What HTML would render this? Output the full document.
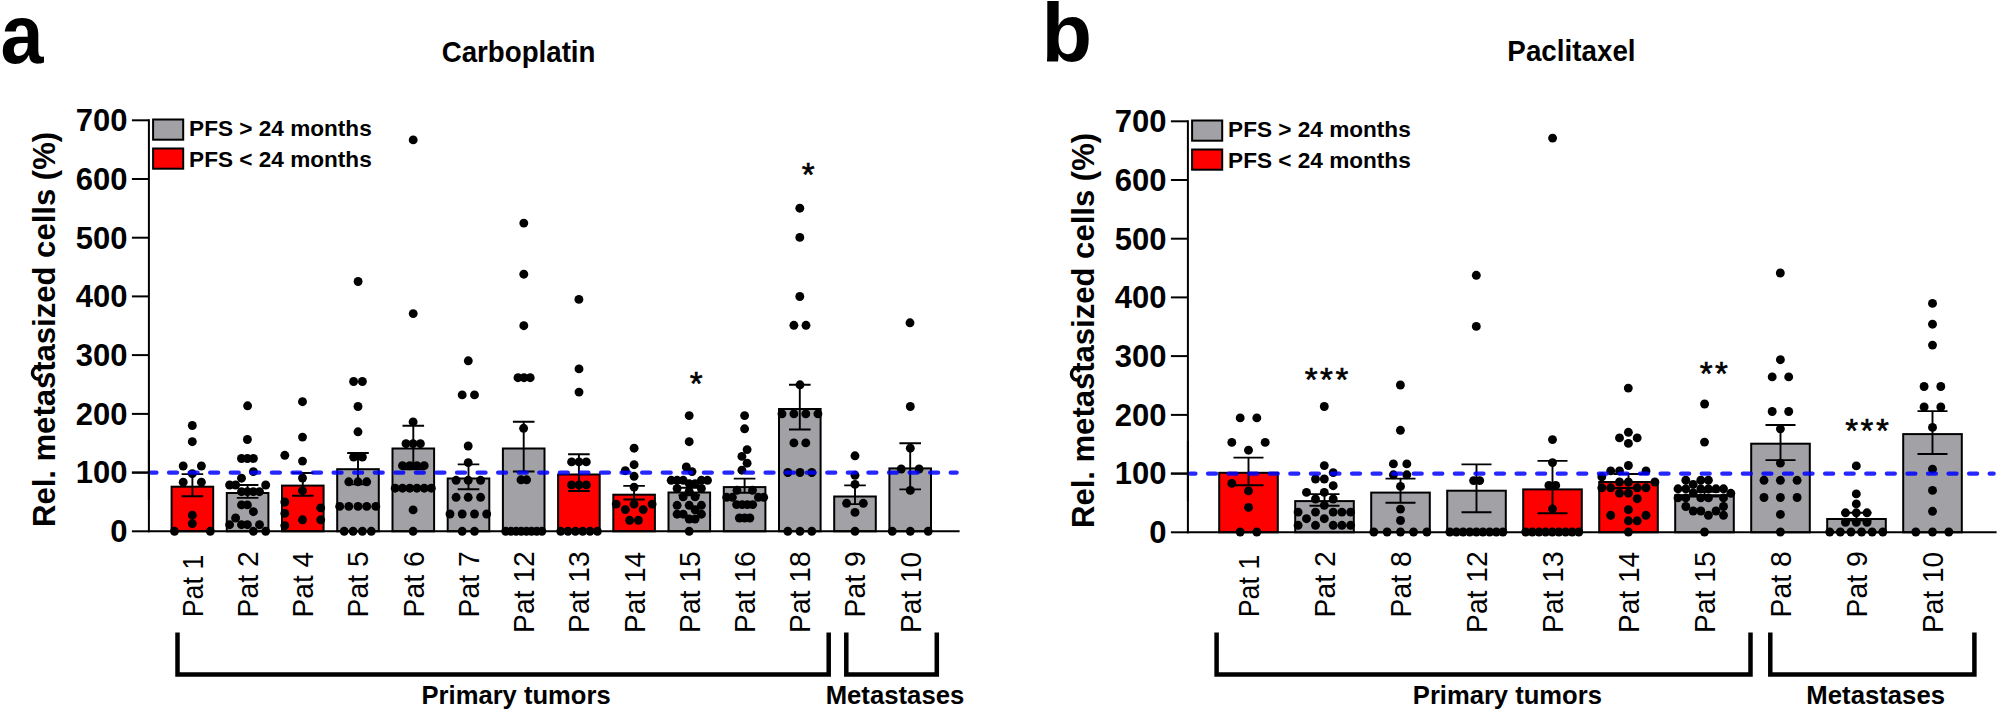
<!DOCTYPE html>
<html><head><meta charset="utf-8"><title>Figure</title>
<style>html,body{margin:0;padding:0;background:#fff}svg{display:block}text{font-family:"Liberation Sans",sans-serif;fill:#000}</style>
</head><body>
<svg width="2000" height="712" viewBox="0 0 2000 712">
<rect width="2000" height="712" fill="#fff"/>
<g transform="translate(0,0)">
<text transform="translate(0.49,63.00) scale(0.9208,1)" font-size="84" font-weight="bold">a</text>
<text transform="translate(441.63,62.00) scale(0.9686,1)" font-size="28.6" font-weight="bold">Carboplatin</text>
<g transform="translate(0,0)">
<text transform="translate(55.10,527.04) rotate(-90) scale(1.0018,1)" font-size="31" font-weight="bold">Rel. metastasized cells (%)</text>
<path d="M39.6 379C33.6 379.4 31.4 374.2 33 370.4C34.2 367.6 37 367 38.6 368.2" stroke="#000" stroke-width="3.3" stroke-linecap="round" fill="none"/>
<text transform="translate(110.21,542.20) scale(0.9720,1)" font-size="31.9" font-weight="bold">0</text>
<line x1="131.9" x2="148.9" y1="531.3" y2="531.3" stroke="#000" stroke-width="2"/>
<text transform="translate(75.72,483.48) scale(0.9720,1)" font-size="31.9" font-weight="bold">100</text>
<line x1="131.9" x2="148.9" y1="472.6" y2="472.6" stroke="#000" stroke-width="2"/>
<text transform="translate(75.72,424.76) scale(0.9720,1)" font-size="31.9" font-weight="bold">200</text>
<line x1="131.9" x2="148.9" y1="413.9" y2="413.9" stroke="#000" stroke-width="2"/>
<text transform="translate(75.72,366.04) scale(0.9720,1)" font-size="31.9" font-weight="bold">300</text>
<line x1="131.9" x2="148.9" y1="355.1" y2="355.1" stroke="#000" stroke-width="2"/>
<text transform="translate(75.72,307.32) scale(0.9720,1)" font-size="31.9" font-weight="bold">400</text>
<line x1="131.9" x2="148.9" y1="296.4" y2="296.4" stroke="#000" stroke-width="2"/>
<text transform="translate(75.72,248.60) scale(0.9720,1)" font-size="31.9" font-weight="bold">500</text>
<line x1="131.9" x2="148.9" y1="237.7" y2="237.7" stroke="#000" stroke-width="2"/>
<text transform="translate(75.72,189.88) scale(0.9720,1)" font-size="31.9" font-weight="bold">600</text>
<line x1="131.9" x2="148.9" y1="179.0" y2="179.0" stroke="#000" stroke-width="2"/>
<text transform="translate(75.72,131.16) scale(0.9720,1)" font-size="31.9" font-weight="bold">700</text>
<line x1="131.9" x2="148.9" y1="120.3" y2="120.3" stroke="#000" stroke-width="2"/>
<rect x="153.1" y="119.5" width="30.1" height="20.2" fill="#a2a1a6" stroke="#000" stroke-width="2"/>
<rect x="153.1" y="148.5" width="30.1" height="20.2" fill="#ff0000" stroke="#000" stroke-width="2"/>
<text transform="translate(189.06,136.40) scale(1.0271,1)" font-size="22" font-weight="bold">PFS &gt; 24 months</text>
<text transform="translate(189.06,167.40) scale(1.0271,1)" font-size="22" font-weight="bold">PFS &lt; 24 months</text>
<rect x="171.6" y="486.7" width="41.6" height="44.6" fill="#ff0000" stroke="#000" stroke-width="2"/>
<rect x="226.8" y="493.0" width="41.6" height="38.3" fill="#a2a1a6" stroke="#000" stroke-width="2"/>
<rect x="282.0" y="485.6" width="41.6" height="45.7" fill="#ff0000" stroke="#000" stroke-width="2"/>
<rect x="337.2" y="469.2" width="41.6" height="62.1" fill="#a2a1a6" stroke="#000" stroke-width="2"/>
<rect x="392.5" y="448.5" width="41.6" height="82.8" fill="#a2a1a6" stroke="#000" stroke-width="2"/>
<rect x="447.7" y="478.5" width="41.6" height="52.8" fill="#a2a1a6" stroke="#000" stroke-width="2"/>
<rect x="502.9" y="448.5" width="41.6" height="82.8" fill="#a2a1a6" stroke="#000" stroke-width="2"/>
<rect x="558.1" y="474.5" width="41.6" height="56.8" fill="#ff0000" stroke="#000" stroke-width="2"/>
<rect x="613.3" y="494.7" width="41.6" height="36.6" fill="#ff0000" stroke="#000" stroke-width="2"/>
<rect x="668.5" y="492.5" width="41.6" height="38.8" fill="#a2a1a6" stroke="#000" stroke-width="2"/>
<rect x="723.8" y="487.1" width="41.6" height="44.2" fill="#a2a1a6" stroke="#000" stroke-width="2"/>
<rect x="779.0" y="409.0" width="41.6" height="122.3" fill="#a2a1a6" stroke="#000" stroke-width="2"/>
<rect x="834.2" y="496.5" width="41.6" height="34.8" fill="#a2a1a6" stroke="#000" stroke-width="2"/>
<rect x="889.4" y="468.4" width="41.6" height="62.9" fill="#a2a1a6" stroke="#000" stroke-width="2"/>
<line x1="148.9" x2="148.9" y1="119.2" y2="532.3" stroke="#000" stroke-width="2"/>
<line x1="147.9" x2="959.6" y1="531.3" y2="531.3" stroke="#000" stroke-width="2"/>
<path d="M181.6 474.1H203.2M181.6 496.2H203.2M192.4 474.1V496.2" stroke="#000" stroke-width="1.9" fill="none"/>
<path d="M236.8 485.0H258.4M236.8 497.9H258.4M247.6 485.0V497.9" stroke="#000" stroke-width="1.9" fill="none"/>
<path d="M292.0 473.0H313.6M292.0 495.7H313.6M302.8 473.0V495.7" stroke="#000" stroke-width="1.9" fill="none"/>
<path d="M347.2 453.0H368.8M347.2 484.4H368.8M358.0 453.0V484.4" stroke="#000" stroke-width="1.9" fill="none"/>
<path d="M402.5 425.7H424.1M402.5 469.3H424.1M413.3 425.7V469.3" stroke="#000" stroke-width="1.9" fill="none"/>
<path d="M457.7 464.4H479.3M457.7 489.2H479.3M468.5 464.4V489.2" stroke="#000" stroke-width="1.9" fill="none"/>
<path d="M512.9 421.7H534.5M512.9 471.5H534.5M523.7 421.7V471.5" stroke="#000" stroke-width="1.9" fill="none"/>
<path d="M568.1 454.3H589.7M568.1 491.0H589.7M578.9 454.3V491.0" stroke="#000" stroke-width="1.9" fill="none"/>
<path d="M623.3 485.9H644.9M623.3 499.5H644.9M634.1 485.9V499.5" stroke="#000" stroke-width="1.9" fill="none"/>
<path d="M678.5 487.8H700.1M678.5 495.2H700.1M689.3 487.8V495.2" stroke="#000" stroke-width="1.9" fill="none"/>
<path d="M733.8 478.6H755.4M733.8 492.7H755.4M744.6 478.6V492.7" stroke="#000" stroke-width="1.9" fill="none"/>
<path d="M789.0 384.8H810.6M789.0 429.5H810.6M799.8 384.8V429.5" stroke="#000" stroke-width="1.9" fill="none"/>
<path d="M844.2 485.4H865.8M844.2 504.1H865.8M855.0 485.4V504.1" stroke="#000" stroke-width="1.9" fill="none"/>
<path d="M899.4 443.2H921.0M899.4 489.4H921.0M910.2 443.2V489.4" stroke="#000" stroke-width="1.9" fill="none"/>
<g fill="#000"><circle cx="192.3" cy="425.5" r="4.45"/><circle cx="192.3" cy="441.7" r="4.45"/><circle cx="183.2" cy="466.0" r="4.45"/><circle cx="201.4" cy="466.0" r="4.45"/><circle cx="192.3" cy="473.7" r="4.45"/><circle cx="183.2" cy="482.2" r="4.45"/><circle cx="201.4" cy="482.2" r="4.45"/><circle cx="192.3" cy="515.2" r="4.45"/><circle cx="192.3" cy="523.6" r="4.45"/><circle cx="174.5" cy="531.3" r="4.45"/><circle cx="210.3" cy="531.3" r="4.45"/><circle cx="247.6" cy="405.8" r="4.45"/><circle cx="247.4" cy="439.5" r="4.45"/><circle cx="241.5" cy="458.5" r="4.45"/><circle cx="247.4" cy="458.5" r="4.45"/><circle cx="253.4" cy="458.5" r="4.45"/><circle cx="253.4" cy="471.6" r="4.45"/><circle cx="241.5" cy="478.2" r="4.45"/><circle cx="229.6" cy="485.0" r="4.45"/><circle cx="235.6" cy="485.0" r="4.45"/><circle cx="265.7" cy="485.0" r="4.45"/><circle cx="241.5" cy="491.7" r="4.45"/><circle cx="247.4" cy="491.7" r="4.45"/><circle cx="253.4" cy="491.7" r="4.45"/><circle cx="259.5" cy="491.7" r="4.45"/><circle cx="241.5" cy="504.9" r="4.45"/><circle cx="247.4" cy="504.9" r="4.45"/><circle cx="253.4" cy="511.7" r="4.45"/><circle cx="235.6" cy="518.0" r="4.45"/><circle cx="229.6" cy="524.7" r="4.45"/><circle cx="241.5" cy="524.7" r="4.45"/><circle cx="247.4" cy="524.7" r="4.45"/><circle cx="259.5" cy="524.7" r="4.45"/><circle cx="253.4" cy="531.3" r="4.45"/><circle cx="265.7" cy="531.3" r="4.45"/><circle cx="302.5" cy="401.7" r="4.45"/><circle cx="302.5" cy="437.1" r="4.45"/><circle cx="284.8" cy="455.3" r="4.45"/><circle cx="302.5" cy="461.1" r="4.45"/><circle cx="302.5" cy="478.0" r="4.45"/><circle cx="302.5" cy="490.7" r="4.45"/><circle cx="284.8" cy="502.0" r="4.45"/><circle cx="320.7" cy="507.9" r="4.45"/><circle cx="284.8" cy="513.4" r="4.45"/><circle cx="302.5" cy="519.8" r="4.45"/><circle cx="320.7" cy="519.8" r="4.45"/><circle cx="284.8" cy="525.6" r="4.45"/><circle cx="358.1" cy="281.5" r="4.45"/><circle cx="353.6" cy="381.5" r="4.45"/><circle cx="362.4" cy="381.5" r="4.45"/><circle cx="358.0" cy="406.5" r="4.45"/><circle cx="358.0" cy="431.8" r="4.45"/><circle cx="353.6" cy="457.0" r="4.45"/><circle cx="362.4" cy="457.0" r="4.45"/><circle cx="348.8" cy="481.8" r="4.45"/><circle cx="358.0" cy="481.8" r="4.45"/><circle cx="366.7" cy="481.8" r="4.45"/><circle cx="339.7" cy="506.4" r="4.45"/><circle cx="348.8" cy="506.4" r="4.45"/><circle cx="358.0" cy="506.4" r="4.45"/><circle cx="366.7" cy="506.4" r="4.45"/><circle cx="375.8" cy="506.4" r="4.45"/><circle cx="344.2" cy="531.3" r="4.45"/><circle cx="353.1" cy="531.3" r="4.45"/><circle cx="362.4" cy="531.3" r="4.45"/><circle cx="371.3" cy="531.3" r="4.45"/><circle cx="413.2" cy="139.9" r="4.45"/><circle cx="413.2" cy="313.6" r="4.45"/><circle cx="413.1" cy="421.9" r="4.45"/><circle cx="406.0" cy="443.7" r="4.45"/><circle cx="413.1" cy="443.7" r="4.45"/><circle cx="420.4" cy="443.7" r="4.45"/><circle cx="402.5" cy="465.7" r="4.45"/><circle cx="409.8" cy="465.7" r="4.45"/><circle cx="416.9" cy="465.7" r="4.45"/><circle cx="424.2" cy="465.7" r="4.45"/><circle cx="395.2" cy="488.2" r="4.45"/><circle cx="402.5" cy="488.2" r="4.45"/><circle cx="409.8" cy="488.2" r="4.45"/><circle cx="416.9" cy="488.2" r="4.45"/><circle cx="424.2" cy="488.2" r="4.45"/><circle cx="431.3" cy="488.2" r="4.45"/><circle cx="413.1" cy="509.9" r="4.45"/><circle cx="413.1" cy="531.3" r="4.45"/><circle cx="468.3" cy="360.8" r="4.45"/><circle cx="462.2" cy="394.9" r="4.45"/><circle cx="474.5" cy="394.9" r="4.45"/><circle cx="468.2" cy="446.0" r="4.45"/><circle cx="468.2" cy="462.6" r="4.45"/><circle cx="456.1" cy="480.3" r="4.45"/><circle cx="468.2" cy="480.3" r="4.45"/><circle cx="480.6" cy="480.3" r="4.45"/><circle cx="456.1" cy="497.3" r="4.45"/><circle cx="468.2" cy="497.3" r="4.45"/><circle cx="480.6" cy="497.3" r="4.45"/><circle cx="450.0" cy="514.0" r="4.45"/><circle cx="462.2" cy="514.0" r="4.45"/><circle cx="474.5" cy="514.0" r="4.45"/><circle cx="486.7" cy="514.0" r="4.45"/><circle cx="462.2" cy="531.3" r="4.45"/><circle cx="474.5" cy="531.3" r="4.45"/><circle cx="523.8" cy="223.1" r="4.45"/><circle cx="523.8" cy="274.2" r="4.45"/><circle cx="523.8" cy="325.7" r="4.45"/><circle cx="518.0" cy="377.7" r="4.45"/><circle cx="524.0" cy="377.7" r="4.45"/><circle cx="530.2" cy="377.7" r="4.45"/><circle cx="523.6" cy="428.3" r="4.45"/><circle cx="521.0" cy="479.8" r="4.45"/><circle cx="526.6" cy="479.8" r="4.45"/><circle cx="505.7" cy="531.3" r="4.45"/><circle cx="510.9" cy="531.3" r="4.45"/><circle cx="516.1" cy="531.3" r="4.45"/><circle cx="521.2" cy="531.3" r="4.45"/><circle cx="526.4" cy="531.3" r="4.45"/><circle cx="531.5" cy="531.3" r="4.45"/><circle cx="536.7" cy="531.3" r="4.45"/><circle cx="541.9" cy="531.3" r="4.45"/><circle cx="578.9" cy="299.4" r="4.45"/><circle cx="579.0" cy="368.9" r="4.45"/><circle cx="579.0" cy="392.1" r="4.45"/><circle cx="571.6" cy="461.9" r="4.45"/><circle cx="579.0" cy="461.9" r="4.45"/><circle cx="586.3" cy="461.9" r="4.45"/><circle cx="571.6" cy="484.9" r="4.45"/><circle cx="579.0" cy="484.9" r="4.45"/><circle cx="586.3" cy="484.9" r="4.45"/><circle cx="560.7" cy="531.3" r="4.45"/><circle cx="568.0" cy="531.3" r="4.45"/><circle cx="575.4" cy="531.3" r="4.45"/><circle cx="582.7" cy="531.3" r="4.45"/><circle cx="590.0" cy="531.3" r="4.45"/><circle cx="597.4" cy="531.3" r="4.45"/><circle cx="634.1" cy="448.2" r="4.45"/><circle cx="634.1" cy="464.7" r="4.45"/><circle cx="625.3" cy="470.7" r="4.45"/><circle cx="634.1" cy="476.3" r="4.45"/><circle cx="634.1" cy="487.1" r="4.45"/><circle cx="616.2" cy="504.1" r="4.45"/><circle cx="634.1" cy="504.1" r="4.45"/><circle cx="652.1" cy="504.1" r="4.45"/><circle cx="625.3" cy="509.6" r="4.45"/><circle cx="643.2" cy="509.6" r="4.45"/><circle cx="629.6" cy="520.3" r="4.45"/><circle cx="638.4" cy="520.3" r="4.45"/><circle cx="689.2" cy="415.6" r="4.45"/><circle cx="689.2" cy="441.7" r="4.45"/><circle cx="686.3" cy="467.0" r="4.45"/><circle cx="692.0" cy="471.6" r="4.45"/><circle cx="671.2" cy="480.3" r="4.45"/><circle cx="677.1" cy="480.3" r="4.45"/><circle cx="683.2" cy="480.3" r="4.45"/><circle cx="701.4" cy="480.3" r="4.45"/><circle cx="707.5" cy="480.3" r="4.45"/><circle cx="689.2" cy="483.6" r="4.45"/><circle cx="695.1" cy="483.6" r="4.45"/><circle cx="677.1" cy="488.5" r="4.45"/><circle cx="701.4" cy="488.5" r="4.45"/><circle cx="689.2" cy="491.3" r="4.45"/><circle cx="683.2" cy="496.9" r="4.45"/><circle cx="695.1" cy="496.9" r="4.45"/><circle cx="677.1" cy="505.3" r="4.45"/><circle cx="689.2" cy="505.3" r="4.45"/><circle cx="701.4" cy="505.3" r="4.45"/><circle cx="695.1" cy="509.8" r="4.45"/><circle cx="677.1" cy="514.2" r="4.45"/><circle cx="683.2" cy="514.2" r="4.45"/><circle cx="701.4" cy="514.2" r="4.45"/><circle cx="689.2" cy="519.0" r="4.45"/><circle cx="695.1" cy="519.0" r="4.45"/><circle cx="689.2" cy="531.3" r="4.45"/><circle cx="744.6" cy="415.6" r="4.45"/><circle cx="744.6" cy="428.8" r="4.45"/><circle cx="747.1" cy="449.6" r="4.45"/><circle cx="741.9" cy="456.4" r="4.45"/><circle cx="747.1" cy="463.2" r="4.45"/><circle cx="741.9" cy="470.2" r="4.45"/><circle cx="737.0" cy="490.3" r="4.45"/><circle cx="752.5" cy="490.3" r="4.45"/><circle cx="726.7" cy="497.3" r="4.45"/><circle cx="732.4" cy="497.3" r="4.45"/><circle cx="758.4" cy="497.3" r="4.45"/><circle cx="763.7" cy="497.3" r="4.45"/><circle cx="736.6" cy="504.6" r="4.45"/><circle cx="742.2" cy="504.6" r="4.45"/><circle cx="747.4" cy="504.6" r="4.45"/><circle cx="752.7" cy="504.6" r="4.45"/><circle cx="739.4" cy="518.0" r="4.45"/><circle cx="744.7" cy="518.0" r="4.45"/><circle cx="749.9" cy="518.0" r="4.45"/><circle cx="799.8" cy="208.2" r="4.45"/><circle cx="799.8" cy="237.4" r="4.45"/><circle cx="799.8" cy="296.5" r="4.45"/><circle cx="793.9" cy="325.3" r="4.45"/><circle cx="806.0" cy="325.3" r="4.45"/><circle cx="800.0" cy="384.8" r="4.45"/><circle cx="782.0" cy="413.8" r="4.45"/><circle cx="793.9" cy="413.8" r="4.45"/><circle cx="805.8" cy="413.8" r="4.45"/><circle cx="817.9" cy="413.8" r="4.45"/><circle cx="793.9" cy="442.9" r="4.45"/><circle cx="805.8" cy="442.9" r="4.45"/><circle cx="787.8" cy="472.5" r="4.45"/><circle cx="800.0" cy="472.5" r="4.45"/><circle cx="811.8" cy="472.5" r="4.45"/><circle cx="787.8" cy="531.3" r="4.45"/><circle cx="800.0" cy="531.3" r="4.45"/><circle cx="811.8" cy="531.3" r="4.45"/><circle cx="855.0" cy="455.8" r="4.45"/><circle cx="855.0" cy="475.3" r="4.45"/><circle cx="855.0" cy="484.4" r="4.45"/><circle cx="846.6" cy="503.3" r="4.45"/><circle cx="863.3" cy="503.3" r="4.45"/><circle cx="855.0" cy="512.4" r="4.45"/><circle cx="855.0" cy="531.3" r="4.45"/><circle cx="910.0" cy="322.8" r="4.45"/><circle cx="910.3" cy="406.5" r="4.45"/><circle cx="910.3" cy="448.2" r="4.45"/><circle cx="901.2" cy="469.0" r="4.45"/><circle cx="919.1" cy="469.0" r="4.45"/><circle cx="910.3" cy="490.4" r="4.45"/><circle cx="892.3" cy="531.3" r="4.45"/><circle cx="910.3" cy="531.3" r="4.45"/><circle cx="928.2" cy="531.3" r="4.45"/></g>
<line x1="151" x2="956.6" y1="472.6" y2="472.6" stroke="#0000ff" stroke-opacity="0.85" stroke-width="4.4" stroke-linecap="round" stroke-dasharray="7.9 12.67" stroke-dashoffset="2.5"/>
<line x1="148.9" x2="148.9" y1="440" y2="500" stroke="#000" stroke-width="2"/>
<line x1="131.9" x2="148.9" y1="472.58" y2="472.58" stroke="#000" stroke-width="2"/>
<text x="697.6" y="395.0" font-size="33" letter-spacing="2.6" text-anchor="middle" stroke="#000" stroke-width="0.6">*</text>
<text x="809.4" y="186.2" font-size="33" letter-spacing="2.6" text-anchor="middle" stroke="#000" stroke-width="0.6">*</text>
</g>
<text transform="translate(202.80,617.30) rotate(-90) scale(0.8949,1)" font-size="30">Pat 1</text>
<text transform="translate(258.01,617.41) rotate(-90) scale(0.9430,1)" font-size="30">Pat 2</text>
<text transform="translate(313.23,617.39) rotate(-90) scale(0.9364,1)" font-size="30">Pat 4</text>
<text transform="translate(368.44,617.41) rotate(-90) scale(0.9430,1)" font-size="30">Pat 5</text>
<text transform="translate(423.66,617.41) rotate(-90) scale(0.9430,1)" font-size="30">Pat 6</text>
<text transform="translate(478.88,617.41) rotate(-90) scale(0.9430,1)" font-size="30">Pat 7</text>
<text transform="translate(534.09,632.90) rotate(-90) scale(0.9402,1)" font-size="30">Pat 12</text>
<text transform="translate(589.30,632.90) rotate(-90) scale(0.9402,1)" font-size="30">Pat 13</text>
<text transform="translate(644.52,632.89) rotate(-90) scale(0.9349,1)" font-size="30">Pat 14</text>
<text transform="translate(699.74,632.90) rotate(-90) scale(0.9402,1)" font-size="30">Pat 15</text>
<text transform="translate(754.95,632.90) rotate(-90) scale(0.9402,1)" font-size="30">Pat 16</text>
<text transform="translate(810.16,632.90) rotate(-90) scale(0.9402,1)" font-size="30">Pat 18</text>
<text transform="translate(865.38,617.41) rotate(-90) scale(0.9430,1)" font-size="30">Pat 9</text>
<text transform="translate(920.60,632.89) rotate(-90) scale(0.9349,1)" font-size="30">Pat 10</text>
<path d="M177.5 632.5V674.6H828.7V632.5" stroke="#000" stroke-width="4.5" fill="none"/>
<path d="M846.3 632.5V674.6H936.8V632.5" stroke="#000" stroke-width="4.5" fill="none"/>
<text transform="translate(421.56,703.80) scale(1.0237,1)" font-size="25" font-weight="bold">Primary tumors</text>
<text transform="translate(825.65,703.80) scale(1.0288,1)" font-size="25" font-weight="bold">Metastases</text>
</g>
<g transform="translate(1039,0)">
<text transform="translate(2.42,61.90) scale(0.9859,1)" font-size="84" font-weight="bold">b</text>
<text transform="translate(468.36,61.30) scale(0.9721,1)" font-size="28.6" font-weight="bold">Paclitaxel</text>
<g transform="translate(0,1)">
<text transform="translate(55.10,527.04) rotate(-90) scale(1.0018,1)" font-size="31" font-weight="bold">Rel. metastasized cells (%)</text>
<path d="M39.6 379C33.6 379.4 31.4 374.2 33 370.4C34.2 367.6 37 367 38.6 368.2" stroke="#000" stroke-width="3.3" stroke-linecap="round" fill="none"/>
<text transform="translate(110.21,542.20) scale(0.9720,1)" font-size="31.9" font-weight="bold">0</text>
<line x1="131.9" x2="148.9" y1="531.3" y2="531.3" stroke="#000" stroke-width="2"/>
<text transform="translate(75.72,483.48) scale(0.9720,1)" font-size="31.9" font-weight="bold">100</text>
<line x1="131.9" x2="148.9" y1="472.6" y2="472.6" stroke="#000" stroke-width="2"/>
<text transform="translate(75.72,424.76) scale(0.9720,1)" font-size="31.9" font-weight="bold">200</text>
<line x1="131.9" x2="148.9" y1="413.9" y2="413.9" stroke="#000" stroke-width="2"/>
<text transform="translate(75.72,366.04) scale(0.9720,1)" font-size="31.9" font-weight="bold">300</text>
<line x1="131.9" x2="148.9" y1="355.1" y2="355.1" stroke="#000" stroke-width="2"/>
<text transform="translate(75.72,307.32) scale(0.9720,1)" font-size="31.9" font-weight="bold">400</text>
<line x1="131.9" x2="148.9" y1="296.4" y2="296.4" stroke="#000" stroke-width="2"/>
<text transform="translate(75.72,248.60) scale(0.9720,1)" font-size="31.9" font-weight="bold">500</text>
<line x1="131.9" x2="148.9" y1="237.7" y2="237.7" stroke="#000" stroke-width="2"/>
<text transform="translate(75.72,189.88) scale(0.9720,1)" font-size="31.9" font-weight="bold">600</text>
<line x1="131.9" x2="148.9" y1="179.0" y2="179.0" stroke="#000" stroke-width="2"/>
<text transform="translate(75.72,131.16) scale(0.9720,1)" font-size="31.9" font-weight="bold">700</text>
<line x1="131.9" x2="148.9" y1="120.3" y2="120.3" stroke="#000" stroke-width="2"/>
<rect x="153.1" y="119.5" width="30.1" height="20.2" fill="#a2a1a6" stroke="#000" stroke-width="2"/>
<rect x="153.1" y="148.5" width="30.1" height="20.2" fill="#ff0000" stroke="#000" stroke-width="2"/>
<text transform="translate(189.06,136.40) scale(1.0271,1)" font-size="22" font-weight="bold">PFS &gt; 24 months</text>
<text transform="translate(189.06,167.40) scale(1.0271,1)" font-size="22" font-weight="bold">PFS &lt; 24 months</text>
<rect x="180.2" y="471.8" width="58.6" height="59.5" fill="#ff0000" stroke="#000" stroke-width="2"/>
<rect x="256.2" y="500.1" width="58.6" height="31.2" fill="#a2a1a6" stroke="#000" stroke-width="2"/>
<rect x="332.2" y="491.6" width="58.6" height="39.7" fill="#a2a1a6" stroke="#000" stroke-width="2"/>
<rect x="408.2" y="489.7" width="58.6" height="41.6" fill="#a2a1a6" stroke="#000" stroke-width="2"/>
<rect x="484.2" y="488.4" width="58.6" height="42.9" fill="#ff0000" stroke="#000" stroke-width="2"/>
<rect x="560.2" y="481.0" width="58.6" height="50.3" fill="#ff0000" stroke="#000" stroke-width="2"/>
<rect x="636.2" y="494.2" width="58.6" height="37.1" fill="#a2a1a6" stroke="#000" stroke-width="2"/>
<rect x="712.2" y="442.7" width="58.6" height="88.6" fill="#a2a1a6" stroke="#000" stroke-width="2"/>
<rect x="788.2" y="518.0" width="58.6" height="13.3" fill="#a2a1a6" stroke="#000" stroke-width="2"/>
<rect x="864.2" y="433.1" width="58.6" height="98.2" fill="#a2a1a6" stroke="#000" stroke-width="2"/>
<line x1="148.9" x2="148.9" y1="119.2" y2="532.3" stroke="#000" stroke-width="2"/>
<line x1="147.9" x2="957.5999999999999" y1="531.3" y2="531.3" stroke="#000" stroke-width="2"/>
<path d="M194.5 456.6H224.5M194.5 484.3H224.5M209.5 456.6V484.3" stroke="#000" stroke-width="1.9" fill="none"/>
<path d="M270.5 493.1H300.5M270.5 504.7H300.5M285.5 493.1V504.7" stroke="#000" stroke-width="1.9" fill="none"/>
<path d="M346.5 477.6H376.5M346.5 501.8H376.5M361.5 477.6V501.8" stroke="#000" stroke-width="1.9" fill="none"/>
<path d="M422.5 463.4H452.5M422.5 511.2H452.5M437.5 463.4V511.2" stroke="#000" stroke-width="1.9" fill="none"/>
<path d="M498.5 459.9H528.5M498.5 512.2H528.5M513.5 459.9V512.2" stroke="#000" stroke-width="1.9" fill="none"/>
<path d="M574.5 473.0H604.5M574.5 487.0H604.5M589.5 473.0V487.0" stroke="#000" stroke-width="1.9" fill="none"/>
<path d="M650.5 490.7H680.5M650.5 495.5H680.5M665.5 490.7V495.5" stroke="#000" stroke-width="1.9" fill="none"/>
<path d="M726.5 424.0H756.5M726.5 459.1H756.5M741.5 424.0V459.1" stroke="#000" stroke-width="1.9" fill="none"/>
<path d="M802.5 511.7H832.5M802.5 519.5H832.5M817.5 511.7V519.5" stroke="#000" stroke-width="1.9" fill="none"/>
<path d="M878.5 410.1H908.5M878.5 453.0H908.5M893.5 410.1V453.0" stroke="#000" stroke-width="1.9" fill="none"/>
<g fill="#000"><circle cx="201.2" cy="416.9" r="4.45"/><circle cx="217.8" cy="416.9" r="4.45"/><circle cx="192.8" cy="441.4" r="4.45"/><circle cx="226.2" cy="441.4" r="4.45"/><circle cx="209.5" cy="449.2" r="4.45"/><circle cx="192.8" cy="482.4" r="4.45"/><circle cx="209.5" cy="489.9" r="4.45"/><circle cx="209.5" cy="506.4" r="4.45"/><circle cx="201.2" cy="531.0" r="4.45"/><circle cx="217.8" cy="531.0" r="4.45"/><circle cx="285.3" cy="405.5" r="4.45"/><circle cx="285.3" cy="464.6" r="4.45"/><circle cx="294.2" cy="471.6" r="4.45"/><circle cx="276.5" cy="478.0" r="4.45"/><circle cx="285.3" cy="478.0" r="4.45"/><circle cx="294.2" cy="484.7" r="4.45"/><circle cx="267.5" cy="491.4" r="4.45"/><circle cx="285.3" cy="491.4" r="4.45"/><circle cx="276.5" cy="498.0" r="4.45"/><circle cx="294.2" cy="498.0" r="4.45"/><circle cx="285.3" cy="504.3" r="4.45"/><circle cx="259.1" cy="511.1" r="4.45"/><circle cx="276.5" cy="511.1" r="4.45"/><circle cx="294.2" cy="511.1" r="4.45"/><circle cx="302.9" cy="511.1" r="4.45"/><circle cx="311.6" cy="511.1" r="4.45"/><circle cx="267.5" cy="517.7" r="4.45"/><circle cx="285.3" cy="517.7" r="4.45"/><circle cx="259.1" cy="524.3" r="4.45"/><circle cx="276.5" cy="524.3" r="4.45"/><circle cx="294.2" cy="524.3" r="4.45"/><circle cx="302.9" cy="524.3" r="4.45"/><circle cx="311.6" cy="524.3" r="4.45"/><circle cx="361.4" cy="384.0" r="4.45"/><circle cx="361.4" cy="429.3" r="4.45"/><circle cx="354.4" cy="462.9" r="4.45"/><circle cx="367.8" cy="462.9" r="4.45"/><circle cx="354.4" cy="473.8" r="4.45"/><circle cx="367.8" cy="473.8" r="4.45"/><circle cx="361.5" cy="485.4" r="4.45"/><circle cx="361.5" cy="508.1" r="4.45"/><circle cx="361.5" cy="519.5" r="4.45"/><circle cx="334.8" cy="531.0" r="4.45"/><circle cx="348.1" cy="531.0" r="4.45"/><circle cx="361.5" cy="531.0" r="4.45"/><circle cx="374.5" cy="531.0" r="4.45"/><circle cx="387.9" cy="531.0" r="4.45"/><circle cx="437.3" cy="274.3" r="4.45"/><circle cx="437.3" cy="325.4" r="4.45"/><circle cx="434.6" cy="479.6" r="4.45"/><circle cx="440.7" cy="479.6" r="4.45"/><circle cx="410.8" cy="531.0" r="4.45"/><circle cx="417.4" cy="531.0" r="4.45"/><circle cx="424.1" cy="531.0" r="4.45"/><circle cx="430.8" cy="531.0" r="4.45"/><circle cx="437.4" cy="531.0" r="4.45"/><circle cx="443.9" cy="531.0" r="4.45"/><circle cx="450.6" cy="531.0" r="4.45"/><circle cx="457.3" cy="531.0" r="4.45"/><circle cx="463.9" cy="531.0" r="4.45"/><circle cx="513.6" cy="137.1" r="4.45"/><circle cx="513.5" cy="438.6" r="4.45"/><circle cx="513.5" cy="461.6" r="4.45"/><circle cx="509.9" cy="484.4" r="4.45"/><circle cx="516.7" cy="484.4" r="4.45"/><circle cx="513.5" cy="507.9" r="4.45"/><circle cx="486.7" cy="531.0" r="4.45"/><circle cx="493.3" cy="531.0" r="4.45"/><circle cx="500.0" cy="531.0" r="4.45"/><circle cx="506.6" cy="531.0" r="4.45"/><circle cx="513.3" cy="531.0" r="4.45"/><circle cx="519.9" cy="531.0" r="4.45"/><circle cx="526.6" cy="531.0" r="4.45"/><circle cx="533.2" cy="531.0" r="4.45"/><circle cx="539.8" cy="531.0" r="4.45"/><circle cx="589.3" cy="387.1" r="4.45"/><circle cx="589.4" cy="431.3" r="4.45"/><circle cx="580.5" cy="436.9" r="4.45"/><circle cx="598.2" cy="436.9" r="4.45"/><circle cx="589.4" cy="442.4" r="4.45"/><circle cx="589.4" cy="464.5" r="4.45"/><circle cx="571.7" cy="469.9" r="4.45"/><circle cx="580.5" cy="469.9" r="4.45"/><circle cx="607.0" cy="469.9" r="4.45"/><circle cx="562.8" cy="475.8" r="4.45"/><circle cx="580.5" cy="481.0" r="4.45"/><circle cx="589.4" cy="481.0" r="4.45"/><circle cx="615.9" cy="481.0" r="4.45"/><circle cx="562.8" cy="486.8" r="4.45"/><circle cx="571.7" cy="486.8" r="4.45"/><circle cx="598.2" cy="486.8" r="4.45"/><circle cx="607.0" cy="486.8" r="4.45"/><circle cx="580.5" cy="492.2" r="4.45"/><circle cx="589.4" cy="492.2" r="4.45"/><circle cx="598.2" cy="497.7" r="4.45"/><circle cx="589.4" cy="508.7" r="4.45"/><circle cx="571.7" cy="514.3" r="4.45"/><circle cx="607.0" cy="514.3" r="4.45"/><circle cx="589.4" cy="519.8" r="4.45"/><circle cx="598.2" cy="519.8" r="4.45"/><circle cx="589.4" cy="531.0" r="4.45"/><circle cx="665.6" cy="403.0" r="4.45"/><circle cx="665.5" cy="441.1" r="4.45"/><circle cx="646.8" cy="479.2" r="4.45"/><circle cx="661.8" cy="479.2" r="4.45"/><circle cx="669.4" cy="479.2" r="4.45"/><circle cx="654.2" cy="483.4" r="4.45"/><circle cx="639.0" cy="487.8" r="4.45"/><circle cx="646.8" cy="487.8" r="4.45"/><circle cx="661.8" cy="487.8" r="4.45"/><circle cx="669.4" cy="487.8" r="4.45"/><circle cx="677.0" cy="487.8" r="4.45"/><circle cx="684.5" cy="487.8" r="4.45"/><circle cx="654.2" cy="491.8" r="4.45"/><circle cx="691.8" cy="492.3" r="4.45"/><circle cx="639.0" cy="496.9" r="4.45"/><circle cx="646.8" cy="496.9" r="4.45"/><circle cx="661.8" cy="496.9" r="4.45"/><circle cx="669.4" cy="496.9" r="4.45"/><circle cx="684.5" cy="496.9" r="4.45"/><circle cx="646.8" cy="505.5" r="4.45"/><circle cx="684.5" cy="505.5" r="4.45"/><circle cx="654.2" cy="510.0" r="4.45"/><circle cx="661.8" cy="510.0" r="4.45"/><circle cx="677.0" cy="510.0" r="4.45"/><circle cx="669.4" cy="514.3" r="4.45"/><circle cx="684.5" cy="514.3" r="4.45"/><circle cx="665.5" cy="531.0" r="4.45"/><circle cx="741.3" cy="272.0" r="4.45"/><circle cx="741.4" cy="358.7" r="4.45"/><circle cx="733.2" cy="375.9" r="4.45"/><circle cx="749.7" cy="375.9" r="4.45"/><circle cx="733.2" cy="410.5" r="4.45"/><circle cx="749.7" cy="410.5" r="4.45"/><circle cx="741.4" cy="427.8" r="4.45"/><circle cx="741.4" cy="462.1" r="4.45"/><circle cx="725.0" cy="479.3" r="4.45"/><circle cx="741.4" cy="479.3" r="4.45"/><circle cx="758.1" cy="479.3" r="4.45"/><circle cx="725.0" cy="496.5" r="4.45"/><circle cx="741.4" cy="496.5" r="4.45"/><circle cx="758.1" cy="496.5" r="4.45"/><circle cx="741.4" cy="513.4" r="4.45"/><circle cx="741.4" cy="531.0" r="4.45"/><circle cx="817.3" cy="464.9" r="4.45"/><circle cx="817.3" cy="492.9" r="4.45"/><circle cx="817.3" cy="502.9" r="4.45"/><circle cx="806.5" cy="511.8" r="4.45"/><circle cx="817.3" cy="511.8" r="4.45"/><circle cx="828.0" cy="511.8" r="4.45"/><circle cx="806.5" cy="521.4" r="4.45"/><circle cx="817.3" cy="521.4" r="4.45"/><circle cx="828.0" cy="521.4" r="4.45"/><circle cx="790.7" cy="531.0" r="4.45"/><circle cx="801.3" cy="531.0" r="4.45"/><circle cx="812.0" cy="531.0" r="4.45"/><circle cx="822.6" cy="531.0" r="4.45"/><circle cx="833.2" cy="531.0" r="4.45"/><circle cx="843.8" cy="531.0" r="4.45"/><circle cx="893.5" cy="302.4" r="4.45"/><circle cx="893.5" cy="323.2" r="4.45"/><circle cx="893.5" cy="344.1" r="4.45"/><circle cx="885.1" cy="385.5" r="4.45"/><circle cx="901.8" cy="385.5" r="4.45"/><circle cx="885.1" cy="406.0" r="4.45"/><circle cx="901.8" cy="406.0" r="4.45"/><circle cx="893.5" cy="426.4" r="4.45"/><circle cx="893.5" cy="468.2" r="4.45"/><circle cx="893.5" cy="489.4" r="4.45"/><circle cx="893.5" cy="510.3" r="4.45"/><circle cx="876.8" cy="531.0" r="4.45"/><circle cx="893.5" cy="531.0" r="4.45"/><circle cx="909.8" cy="531.0" r="4.45"/></g>
<line x1="151" x2="954.5999999999999" y1="472.6" y2="472.6" stroke="#0000ff" stroke-opacity="0.85" stroke-width="4.4" stroke-linecap="round" stroke-dasharray="7.9 12.67" stroke-dashoffset="2.5"/>
<line x1="148.9" x2="148.9" y1="440" y2="500" stroke="#000" stroke-width="2"/>
<line x1="131.9" x2="148.9" y1="472.58" y2="472.58" stroke="#000" stroke-width="2"/>
<text x="288.8" y="389.9" font-size="33" letter-spacing="2.6" text-anchor="middle" stroke="#000" stroke-width="0.6">***</text>
<text x="676.1" y="384.2" font-size="33" letter-spacing="2.6" text-anchor="middle" stroke="#000" stroke-width="0.6">**</text>
<text x="829.3" y="441.4" font-size="33" letter-spacing="2.6" text-anchor="middle" stroke="#000" stroke-width="0.6">***</text>
</g>
<text transform="translate(219.90,617.30) rotate(-90) scale(0.8949,1)" font-size="30">Pat 1</text>
<text transform="translate(295.90,617.41) rotate(-90) scale(0.9430,1)" font-size="30">Pat 2</text>
<text transform="translate(371.90,617.41) rotate(-90) scale(0.9430,1)" font-size="30">Pat 8</text>
<text transform="translate(447.90,632.90) rotate(-90) scale(0.9402,1)" font-size="30">Pat 12</text>
<text transform="translate(523.90,632.90) rotate(-90) scale(0.9402,1)" font-size="30">Pat 13</text>
<text transform="translate(599.90,632.89) rotate(-90) scale(0.9349,1)" font-size="30">Pat 14</text>
<text transform="translate(675.90,632.90) rotate(-90) scale(0.9402,1)" font-size="30">Pat 15</text>
<text transform="translate(751.90,617.41) rotate(-90) scale(0.9430,1)" font-size="30">Pat 8</text>
<text transform="translate(827.90,617.41) rotate(-90) scale(0.9430,1)" font-size="30">Pat 9</text>
<text transform="translate(903.90,632.89) rotate(-90) scale(0.9349,1)" font-size="30">Pat 10</text>
<path d="M177.5999999999999 632.5V674.6H711.5V632.5" stroke="#000" stroke-width="4.5" fill="none"/>
<path d="M731.3 632.5V674.6H935.4000000000001V632.5" stroke="#000" stroke-width="4.5" fill="none"/>
<text transform="translate(373.86,703.80) scale(1.0231,1)" font-size="25" font-weight="bold">Primary tumors</text>
<text transform="translate(767.35,703.80) scale(1.0288,1)" font-size="25" font-weight="bold">Metastases</text>
</g>
</svg>
</body></html>
